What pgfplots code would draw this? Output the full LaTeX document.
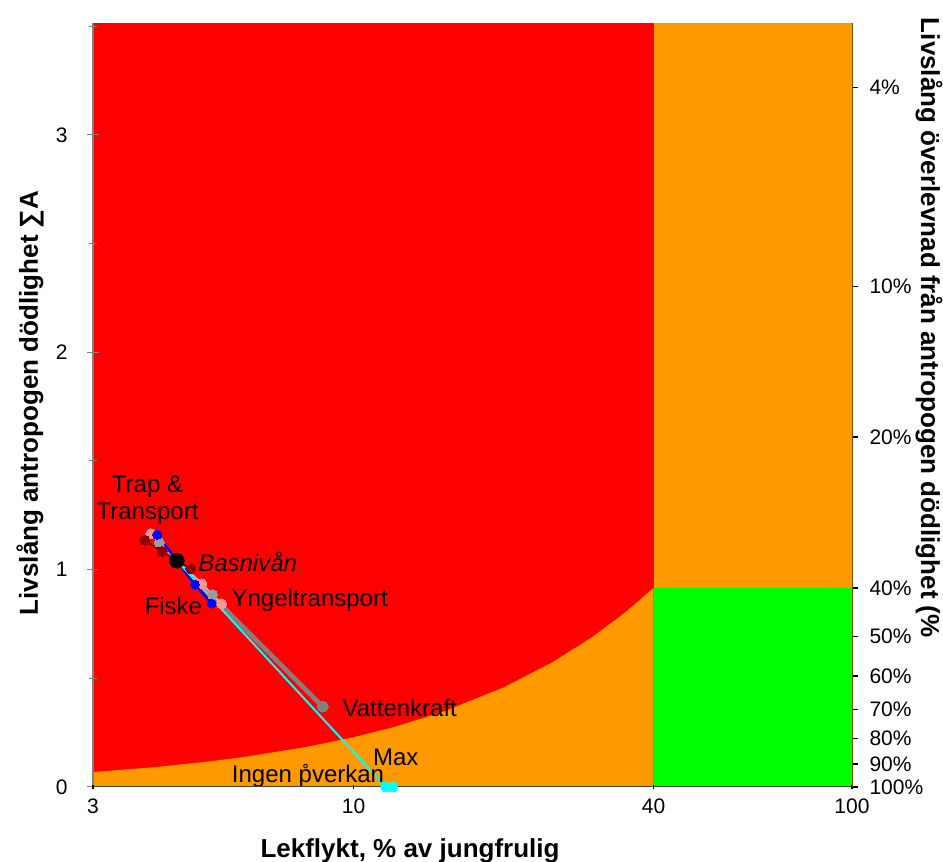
\documentclass[border=0pt]{standalone}
\usepackage{fontspec}
\setmainfont{Liberation Sans}
\usepackage{pgfplots}
\pgfplotsset{compat=1.18}
\definecolor{cred}{RGB}{255,0,0}
\definecolor{corange}{RGB}{255,153,0}
\definecolor{cgreen}{RGB}{0,255,0}
\definecolor{dred}{RGB}{140,0,0}
\definecolor{pinkc}{RGB}{255,150,150}
\definecolor{lgray}{RGB}{155,155,155}
\definecolor{dgray}{RGB}{128,128,128}
\definecolor{cyanc}{RGB}{0,255,255}
\definecolor{axbrown}{RGB}{120,80,0}
\newcommand{\tickfont}{\fontsize{21}{24}\selectfont}
\newcommand{\lblfont}{\fontsize{24}{27}\selectfont}
\newcommand{\axfont}{\fontsize{26}{29}\selectfont\bfseries}
\begin{document}
\begin{tikzpicture}
\begin{axis}[
  width=759pt, height=764pt, scale only axis,
  xmode=log, xmin=3, xmax=100, ymin=0, ymax=3.515,
  clip=false, axis on top,
  axis x line*=bottom, axis y line*=left,
  x axis line style={draw=black!75, line width=1pt, -},
  y axis line style={draw=gray, line width=1.2pt, -},
  xtick={3,10,40,100}, xticklabels={3,10,40,100},
  minor xtick={},
  xtick style={draw=none},
  ytick={0,1,2,3}, minor ytick={0.5,1.5,2.5,3.5},
  ytick style={gray, line width=1pt},
  major tick length=12pt, minor tick length=8pt,
  tick align=center,
  /pgf/number format/assume math mode=true,
  ticklabel style={font=\tickfont},
  xticklabel style={yshift=-2pt},
  yticklabel style={xshift=-16pt},
]
% background zones
\addplot[draw=none, fill=cred] coordinates {(3,0) (3,3.515) (40,3.515) (40,0)} -- cycle;
\addplot[draw=none, fill=corange] coordinates {
 (3,0.0687) (4,0.0916) (5,0.1145) (6,0.1374) (8,0.1833) (10,0.2291)
 (12,0.2749) (15,0.3436) (20,0.4582) (25,0.5727) (30,0.6872) (35,0.8018) (40,0.9163)} \closedcycle;
\addplot[draw=none, fill=corange] coordinates {(40,0) (40,3.515) (100,3.515) (100,0)} -- cycle;
\addplot[draw=none, fill=cgreen] coordinates {(40,0) (40,0.9163) (100,0.9163) (100,0)} -- cycle;
% scenarios
\addplot[dgray, line width=4.5pt, mark=*, mark size=5.5pt, mark options={line width=0pt}] coordinates {(4.42,1.041) (8.67,0.370)};
\addplot[lgray, line width=2pt, mark=*, mark size=5pt, mark options={line width=0pt}] coordinates {(4.074,1.125) (4.42,1.041) (5.21,0.885)};
\addplot[pinkc, line width=2pt, mark=*, mark size=5pt, mark options={line width=0pt}] coordinates {(3.917,1.166) (4.42,1.041) (4.957,0.936) (5.435,0.843)};
\addplot[dred, line width=2pt, mark=*, mark size=5pt, mark options={line width=0pt}] coordinates {(3.814,1.135) (4.131,1.084) (4.42,1.041) (4.717,1.003)};
\addplot[blue, line width=2.5pt, mark=*, mark size=4.5pt, mark options={line width=0pt}] coordinates {(4.037,1.161) (4.42,1.041) (4.806,0.931) (5.19,0.844)};
\addplot[cyanc, line width=2pt, mark=*, mark size=5pt, mark options={line width=0pt}] coordinates {(4.42,1.041) (11.61,0) (11.98,0)};
\addplot[black, only marks, mark=*, mark size=7.5pt] coordinates {(4.42,1.041)};
% labels
\node[font=\lblfont, align=center] at (axis cs:3.86,1.32) {Trap \&\\Transport};
\node[font=\lblfont\itshape, anchor=west] at (axis cs:4.80,1.037) {Basnivån};
\node[font=\lblfont] at (axis cs:4.35,0.834) {Fiske};
\node[font=\lblfont, anchor=west] at (axis cs:5.60,0.857) {Yngeltransport};
\node[font=\lblfont, anchor=west] at (axis cs:9.35,0.364) {Vattenkraft};
\node[font=\lblfont, inner sep=0pt] at (axis cs:12.15,0.135) {Max};
\node[font=\lblfont, inner sep=0pt] at (axis cs:8.10,0.050) {Ingen p̊verkan};
% axis titles
\node[font=\axfont, rotate=90] at (axis description cs:-0.083,0.5026) {Livslång antropogen dödlighet ∑A};
\node[font=\axfont, rotate=-90] at (axis description cs:1.1015,0.601) {Livslång överlevnad från antropogen dödlighet (\%};
\node[font=\axfont] at (axis description cs:0.4177,-0.0835) {Lekflykt, \% av jungfrulig};
\end{axis}
% x tick marks
\begin{axis}[
  width=759pt, height=764pt, scale only axis,
  xmode=log, xmin=3, xmax=100, ymin=0, ymax=3.515,
  axis y line=none, axis x line*=bottom,
  x axis line style={draw=none},
  xtick={3,10,40,100}, xticklabels={}, minor xtick={},
  xtick style={black, line width=1.5pt},
  major tick length=4pt, tick align=center,
]
\addplot[draw=none] coordinates {(3,0)};
\end{axis}
% right axis
\begin{axis}[
  width=759pt, height=764pt, scale only axis,
  xmode=log, xmin=3, xmax=100, ymin=0, ymax=3.515,
  axis x line=none, axis y line*=right,
  y axis line style={draw=axbrown, line width=1pt, -},
  ytick={3.2189,2.3026,1.6094,0.9163,0.6931,0.5108,0.3567,0.2231,0.1054,0},
  yticklabels={4\%,10\%,20\%,40\%,50\%,60\%,70\%,80\%,90\%,100\%},
  ytick style={black, line width=1.5pt},
  major tick length=6pt, tick align=outside,
  yticklabel style={font=\tickfont, xshift=8pt},
]
\addplot[draw=none] coordinates {(3,0)};
\end{axis}
\pgfresetboundingbox
\useasboundingbox (-93pt,-75pt) rectangle (850pt,787pt);
\end{tikzpicture}
\end{document}
